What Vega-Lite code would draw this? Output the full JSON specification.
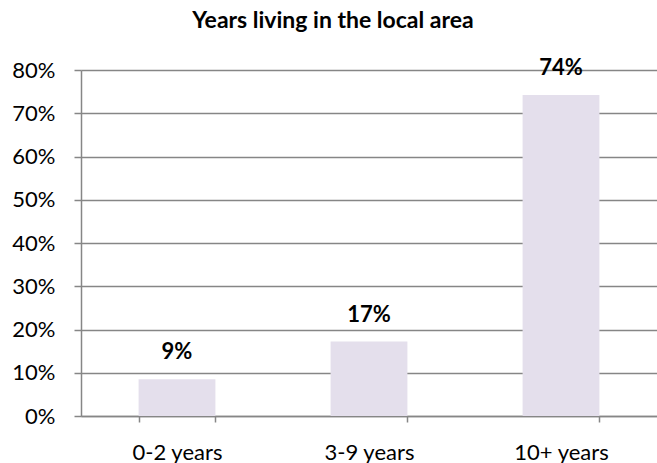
{
  "$schema": "https://vega.github.io/schema/vega-lite/v6.json",
  "autosize": "none",
  "width": 576,
  "height": 346,
  "padding": {"left": 81, "top": 70, "right": 0, "bottom": 47},
  "background": "white",
  "title": {
    "text": "Years living in the local area",
    "font": "Lato",
    "fontSize": 23,
    "fontWeight": "bold",
    "color": "#000000",
    "anchor": "middle",
    "dx": -36,
    "offset": 24
  },
  "data": {
    "values": [
      {"category": "0-2 years", "value": 8.5, "label": "9%"},
      {"category": "3-9 years", "value": 17.2, "label": "17%"},
      {"category": "10+ years", "value": 74.2, "label": "74%"}
    ]
  },
  "config": {
    "view": {"stroke": null},
    "axis": {"labelFont": "Lato", "labelFontSize": 22, "labelColor": "#000000"}
  },
  "encoding": {
    "x": {
      "field": "category",
      "type": "nominal",
      "sort": null,
      "scale": {"paddingInner": 0.6, "paddingOuter": 0.3},
      "axis": {
        "title": null,
        "labelAngle": 0,
        "domainColor": "#868686",
        "domainWidth": 1.5,
        "tickColor": "#868686",
        "tickWidth": 1.5,
        "tickSize": 6,
        "tickBand": "extent",
        "labelPadding": 20
      }
    },
    "y": {
      "field": "value",
      "type": "quantitative",
      "scale": {"domain": [0, 80], "nice": false},
      "axis": {
        "title": null,
        "values": [0, 10, 20, 30, 40, 50, 60, 70, 80],
        "labelExpr": "datum.value + '%'",
        "grid": true,
        "gridColor": "#868686",
        "gridWidth": 1.5,
        "domainColor": "#868686",
        "domainWidth": 1.5,
        "tickColor": "#868686",
        "tickWidth": 1.5,
        "tickSize": 7,
        "labelPadding": 19
      }
    }
  },
  "layer": [
    {"mark": {"type": "bar", "color": "#E4DFEC"}},
    {
      "mark": {"type": "text", "font": "Lato", "fontSize": 22, "fontWeight": "bold", "color": "#000000", "baseline": "bottom", "dy": -15},
      "encoding": {"text": {"field": "label"}}
    }
  ]
}
